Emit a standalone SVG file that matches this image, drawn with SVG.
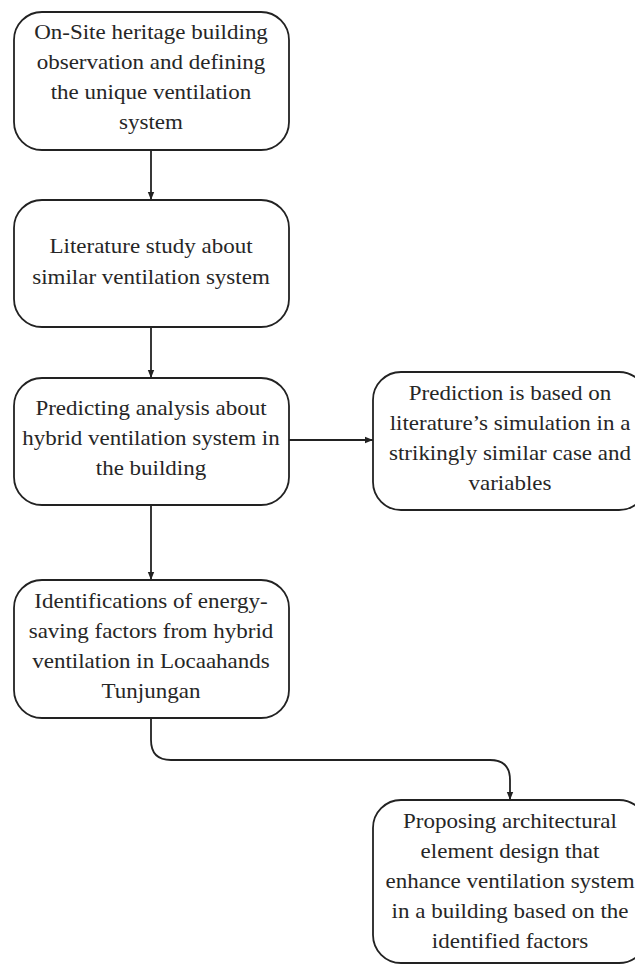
<svg xmlns="http://www.w3.org/2000/svg" width="635" height="964" viewBox="0 0 635 964">
<style>
.box{fill:#fff;stroke:#222;stroke-width:1.8}
.t{font-family:"Liberation Serif","Times New Roman",serif;font-size:20px;fill:#262626;text-anchor:middle}
.c{fill:none;stroke:#222;stroke-width:1.8}
</style>
<defs>
<marker id="ah" viewBox="0 0 10 10" refX="10" refY="5" markerWidth="8" markerHeight="8" markerUnits="userSpaceOnUse" orient="auto">
<path d="M0,1 L10,5 L0,9 Z" fill="#222"/>
</marker>
</defs>
<rect width="635" height="964" fill="#fff"/>
<g id="connectors">
<line class="c" x1="151" y1="150" x2="151" y2="200" marker-end="url(#ah)"/>
<line class="c" x1="151" y1="327" x2="151" y2="378" marker-end="url(#ah)"/>
<line class="c" x1="289" y1="440" x2="373" y2="440" marker-end="url(#ah)"/>
<line class="c" x1="151" y1="505" x2="151" y2="580" marker-end="url(#ah)"/>
<path class="c" d="M151,718 L151,740 Q151,760 171,760 L490,760 Q510,760 510,780 L510,800" marker-end="url(#ah)"/>
</g>
<g id="n1">
<rect class="box" x="14" y="12" width="275" height="138" rx="28"/>
<g transform="translate(151,0) scale(1.15,1)">
<text class="t" x="0" y="39">On-Site heritage building</text>
<text class="t" x="0" y="69">observation and defining</text>
<text class="t" x="0" y="99">the unique ventilation</text>
<text class="t" x="0" y="129">system</text>
</g>
</g>
<g id="n2">
<rect class="box" x="14" y="200" width="275" height="127" rx="28"/>
<g transform="translate(151,0) scale(1.15,1)">
<text class="t" x="0" y="253">Literature study about</text>
<text class="t" x="0" y="284">similar ventilation system</text>
</g>
</g>
<g id="n3">
<rect class="box" x="14" y="378" width="275" height="127" rx="28"/>
<g transform="translate(151,0) scale(1.15,1)">
<text class="t" x="0" y="415">Predicting analysis about</text>
<text class="t" x="0" y="445">hybrid ventilation system in</text>
<text class="t" x="0" y="475">the building</text>
</g>
</g>
<g id="n4">
<rect class="box" x="373" y="372" width="274" height="138" rx="28"/>
<g transform="translate(510,0) scale(1.15,1)">
<text class="t" x="0" y="400">Prediction is based on</text>
<text class="t" x="0" y="430">literature’s simulation in a</text>
<text class="t" x="0" y="460">strikingly similar case and</text>
<text class="t" x="0" y="490">variables</text>
</g>
</g>
<g id="n5">
<rect class="box" x="14" y="580" width="275" height="138" rx="28"/>
<g transform="translate(151,0) scale(1.15,1)">
<text class="t" x="0" y="608">Identifications of energy-</text>
<text class="t" x="0" y="638">saving factors from hybrid</text>
<text class="t" x="0" y="668">ventilation in Locaahands</text>
<text class="t" x="0" y="698">Tunjungan</text>
</g>
</g>
<g id="n6">
<rect class="box" x="373" y="800" width="274" height="163" rx="28"/>
<g transform="translate(510,0) scale(1.15,1)">
<text class="t" x="0" y="828">Proposing architectural</text>
<text class="t" x="0" y="858">element design that</text>
<text class="t" x="0" y="888">enhance ventilation system</text>
<text class="t" x="0" y="918">in a building based on the</text>
<text class="t" x="0" y="948">identified factors</text>
</g>
</g>
</svg>
